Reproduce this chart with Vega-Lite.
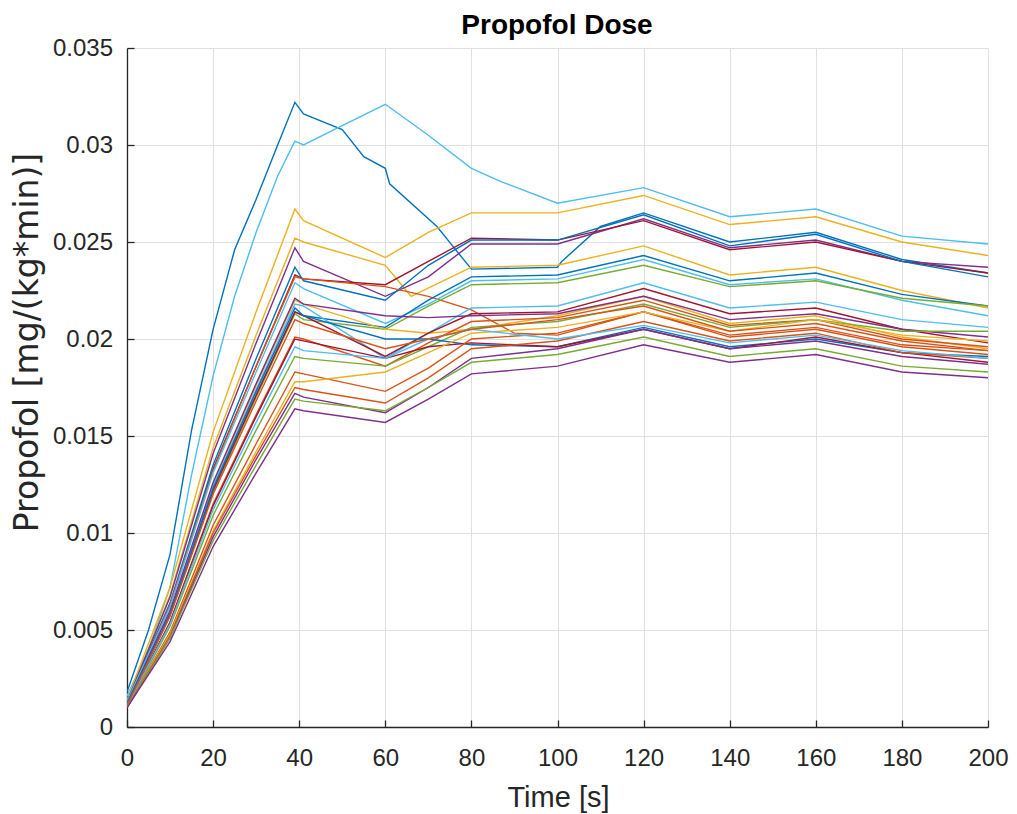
{
  "$schema": "https://vega.github.io/schema/vega-lite/v6.json",
  "width": 861,
  "height": 679,
  "autosize": {"type": "none"},
  "padding": {"left": 127, "top": 48, "right": 29, "bottom": 87},
  "background": "#ffffff",
  "data": {"values": [
    {"s": "B1", "t": [0,5,10,15,20,25,30,35,39,41,50,55,60,61,72,76,80,100,101,110,120,140,160,180,200], "v": [0.0018,0.0050,0.0089,0.0153,0.0205,0.0246,0.0272,0.0300,0.0322,0.0316,0.0308,0.0294,0.0288,0.0280,0.0258,0.0247,0.0236,0.0237,0.0240,0.0258,0.0265,0.0250,0.0255,0.0241,0.0234]},
    {"s": "L1", "t": [0,5,10,15,20,25,30,35,39,41,50,60,70,80,87,100,120,140,160,180,200], "v": [0.0016,0.0040,0.0072,0.0130,0.0181,0.0222,0.0255,0.0284,0.0302,0.0300,0.0310,0.0321,0.0305,0.0288,0.0281,0.0270,0.0278,0.0263,0.0267,0.0253,0.0249]},
    {"s": "Y1", "t": [0,10,20,30,39,41,60,70,80,100,120,140,160,180,200], "v": [0.0014,0.0072,0.0152,0.0214,0.0267,0.0261,0.0242,0.0255,0.0265,0.0265,0.0274,0.0259,0.0263,0.0250,0.0243]},
    {"s": "Y2", "t": [0,10,20,30,39,41,60,66,80,100,120,140,160,180,200], "v": [0.0013,0.0068,0.0144,0.0202,0.0252,0.0250,0.0238,0.0222,0.0237,0.0238,0.0248,0.0233,0.0237,0.0225,0.0216]},
    {"s": "P1", "t": [0,10,20,30,39,41,60,70,80,100,120,140,160,180,200], "v": [0.0013,0.0067,0.0141,0.0198,0.0247,0.0240,0.0222,0.0232,0.0249,0.0249,0.0262,0.0247,0.0251,0.0240,0.0237]},
    {"s": "R1", "t": [0,10,20,30,39,41,60,70,80,100,120,140,160,180,200], "v": [0.0012,0.0063,0.0133,0.0186,0.0233,0.0231,0.0228,0.0240,0.0252,0.0251,0.0261,0.0246,0.0250,0.0240,0.0234]},
    {"s": "B2", "t": [0,10,20,30,39,41,60,70,80,100,120,140,160,180,200], "v": [0.0013,0.0064,0.0135,0.0190,0.0237,0.0230,0.0220,0.0238,0.0251,0.0251,0.0264,0.0248,0.0254,0.0240,0.0232]},
    {"s": "O1", "t": [0,10,20,30,39,41,60,70,80,90,100,120,140,160,180,200], "v": [0.0012,0.0063,0.0132,0.0186,0.0232,0.0231,0.0227,0.0222,0.0215,0.0203,0.0202,0.0214,0.0201,0.0205,0.0196,0.0192]},
    {"s": "L2", "t": [0,10,20,30,39,41,60,70,80,100,120,140,160,180,200], "v": [0.0013,0.0062,0.0131,0.0183,0.0229,0.0226,0.0208,0.0218,0.0230,0.0231,0.0241,0.0228,0.0231,0.0220,0.0212]},
    {"s": "B3", "t": [0,10,20,30,39,41,60,70,80,100,120,140,160,180,200], "v": [0.0012,0.0058,0.0122,0.0171,0.0214,0.0212,0.0206,0.0220,0.0232,0.0233,0.0243,0.0230,0.0234,0.0223,0.0217]},
    {"s": "G1", "t": [0,10,20,30,39,41,60,70,80,100,120,140,160,180,200], "v": [0.0011,0.0058,0.0121,0.0170,0.0213,0.0210,0.0205,0.0217,0.0228,0.0229,0.0238,0.0227,0.0230,0.0221,0.0217]},
    {"s": "Y3", "t": [0,10,20,30,39,41,60,70,80,100,120,140,160,180,200], "v": [0.0012,0.0059,0.0125,0.0176,0.0220,0.0218,0.0205,0.0203,0.0205,0.0212,0.0222,0.0208,0.0212,0.0201,0.0195]},
    {"s": "L3", "t": [0,10,20,30,39,41,60,70,80,100,120,140,160,180,200], "v": [0.0012,0.0059,0.0124,0.0174,0.0218,0.0217,0.0190,0.0203,0.0216,0.0217,0.0229,0.0216,0.0219,0.0210,0.0206]},
    {"s": "R2", "t": [0,10,20,30,39,41,60,70,80,100,120,140,160,180,200], "v": [0.0011,0.0058,0.0122,0.0171,0.0214,0.0212,0.0191,0.0203,0.0213,0.0214,0.0226,0.0213,0.0216,0.0205,0.0198]},
    {"s": "P2", "t": [0,10,20,30,39,41,60,70,80,100,120,140,160,180,200], "v": [0.0012,0.0060,0.0126,0.0177,0.0221,0.0218,0.0212,0.0211,0.0212,0.0213,0.0222,0.0210,0.0213,0.0205,0.0201]},
    {"s": "O2", "t": [0,10,20,30,39,41,60,70,80,100,120,140,160,180,200], "v": [0.0011,0.0054,0.0115,0.0161,0.0201,0.0200,0.0186,0.0198,0.0209,0.0211,0.0220,0.0207,0.0210,0.0200,0.0196]},
    {"s": "G2", "t": [0,10,20,30,39,41,60,70,80,100,120,140,160,180,200], "v": [0.0010,0.0052,0.0109,0.0153,0.0191,0.0190,0.0186,0.0196,0.0206,0.0209,0.0218,0.0206,0.0210,0.0204,0.0204]},
    {"s": "B4", "t": [0,10,20,30,39,41,60,70,80,100,120,140,160,180,200], "v": [0.0012,0.0058,0.0123,0.0173,0.0216,0.0212,0.0200,0.0200,0.0197,0.0196,0.0206,0.0196,0.0200,0.0193,0.0191]},
    {"s": "R3", "t": [0,10,20,30,39,41,60,70,80,100,120,140,160,180,200], "v": [0.0011,0.0054,0.0114,0.0160,0.0200,0.0199,0.0190,0.0196,0.0198,0.0196,0.0205,0.0195,0.0201,0.0193,0.0188]},
    {"s": "O3", "t": [0,10,20,30,39,41,60,70,80,100,120,140,160,180,200], "v": [0.0010,0.0049,0.0104,0.0146,0.0183,0.0182,0.0173,0.0185,0.0200,0.0203,0.0214,0.0202,0.0206,0.0197,0.0194]},
    {"s": "Y4", "t": [0,10,20,30,39,41,60,70,80,100,120,140,160,180,200], "v": [0.0010,0.0048,0.0101,0.0142,0.0178,0.0178,0.0183,0.0193,0.0203,0.0206,0.0214,0.0204,0.0210,0.0202,0.0199]},
    {"s": "O4", "t": [0,10,20,30,39,41,60,70,80,100,120,140,160,180,200], "v": [0.0010,0.0047,0.0100,0.0140,0.0175,0.0174,0.0167,0.0180,0.0195,0.0199,0.0209,0.0199,0.0203,0.0193,0.0190]},
    {"s": "P3", "t": [0,10,20,30,39,41,60,70,80,100,120,140,160,180,200], "v": [0.0010,0.0046,0.0098,0.0138,0.0172,0.0170,0.0162,0.0175,0.0190,0.0195,0.0205,0.0195,0.0199,0.0191,0.0187]},
    {"s": "G3", "t": [0,10,20,30,39,41,60,70,80,100,120,140,160,180,200], "v": [0.0010,0.0046,0.0096,0.0135,0.0169,0.0168,0.0163,0.0175,0.0188,0.0192,0.0201,0.0191,0.0195,0.0186,0.0183]},
    {"s": "P4", "t": [0,10,20,30,39,41,60,70,80,100,120,140,160,180,200], "v": [0.0010,0.0044,0.0093,0.0131,0.0164,0.0163,0.0157,0.0169,0.0182,0.0186,0.0197,0.0188,0.0192,0.0183,0.0180]},
    {"s": "L4", "t": [0,10,20,30,39,41,60,70,80,100,120,140,160,180,200], "v": [0.0011,0.0053,0.0112,0.0157,0.0196,0.0194,0.0190,0.0200,0.0205,0.0200,0.0207,0.0198,0.0202,0.0194,0.0190]},
    {"s": "O5", "t": [0,10,20,30,39,41,60,70,80,100,120,140,160,180,200], "v": [0.0011,0.0057,0.0120,0.0168,0.0210,0.0208,0.0195,0.0200,0.0205,0.0210,0.0217,0.0204,0.0208,0.0199,0.0194]}
  ]},
  "transform": [{"flatten": ["t", "v"]}],
  "layer": [
    {
      "mark": {"type": "line", "strokeWidth": 1.4, "clip": true},
      "encoding": {
        "x": {"field": "t", "type": "quantitative", "scale": {"domain": [0, 200], "nice": false},
          "axis": {"orient": "bottom", "values": [0,20,40,60,80,100,120,140,160,180,200], "title": "Time [s]", "titleFontSize": 29, "titleX": 431, "titleY": 79, "titleBaseline": "alphabetic", "labelBaseline": "alphabetic", "labelPadding": 45}},
        "y": {"field": "v", "type": "quantitative", "scale": {"domain": [0, 0.035], "nice": false, "zero": false},
          "axis": {"values": [0,0.005,0.01,0.015,0.02,0.025,0.03,0.035], "format": "~g", "title": "Propofol [mg/(kg*min)]", "titleFont": "DejaVu Sans", "titleFontSize": 33, "titleX": -90, "titleY": 294, "titleAngle": -90, "titleBaseline": "alphabetic", "labelPadding": 21.5, "labelAlign": "right", "labelBaseline": "middle"}},
        "color": {"field": "s", "type": "nominal", "legend": null,
          "scale": {"domain": ["B1","L1","Y1","Y2","P1","R1","B2","O1","L2","B3","G1","Y3","L3","R2","P2","O2","G2","B4","R3","O3","Y4","O4","P3","G3","P4","L4","O5"],
            "range": ["#0072BD","#4DBEEE","#EDB120","#EDB120","#7E2F8E","#A2142F","#0072BD","#D95319","#4DBEEE","#0072BD","#77AC30","#EDB120","#4DBEEE","#A2142F","#7E2F8E","#D95319","#77AC30","#0072BD","#A2142F","#D95319","#EDB120","#D95319","#7E2F8E","#77AC30","#7E2F8E","#4DBEEE","#D95319"]}}
      }
    },
    {
      "mark": {"type": "rule", "opacity": 0},
      "encoding": {
        "x": {"datum": 0, "type": "quantitative",
          "axis": {"orient": "top", "title": "Propofol Dose", "labels": false, "ticks": false, "domain": false, "grid": false, "titleFontWeight": "bold", "titleFontSize": 28, "titleColor": "#000000", "titleX": 429.5, "titleY": -15, "titleBaseline": "alphabetic"}}
      }
    }
  ],
  "config": {
    "view": {"stroke": null},
    "axis": {"domainColor": "#262626", "domainWidth": 1.3, "tickColor": "#262626", "tickWidth": 1.3, "tickSize": -7, "labelColor": "#262626", "titleColor": "#262626", "labelFont": "Liberation Sans", "titleFont": "Liberation Sans", "labelFontSize": 24, "titleFontSize": 27, "titleFontWeight": "normal", "gridColor": "#e0e0e0", "gridWidth": 1, "labelFlush": false, "labelOverlap": false, "grid": true}
  }
}
